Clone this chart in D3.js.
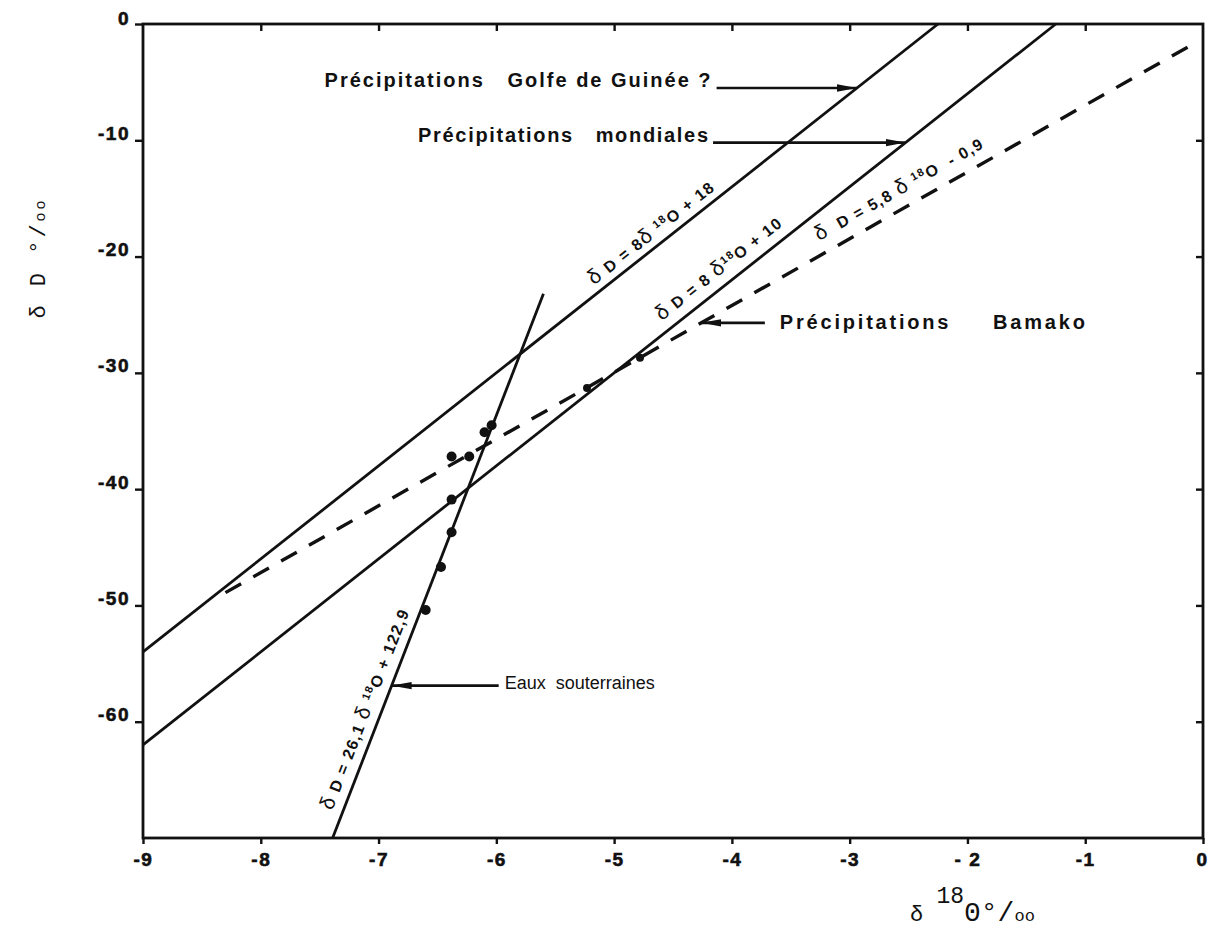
<!DOCTYPE html>
<html>
<head>
<meta charset="utf-8">
<script src="https://cdn.jsdelivr.net/npm/d3@7"></script>
<style>
  html, body { margin: 0; padding: 0; background: #fff; }
  svg { display: block; }
</style>
</head>
<body>
<svg id="chart" width="1208" height="928"></svg>
<script>
// ---------- data ----------
const xTicks = [-9, -8, -7, -6, -5, -4, -3, -2, -1, 0];
const xTickLabels = ["-9", "-8", "-7", "-6", "-5", "-4", "-3", "- 2", "-1", "0"];
const yTicks = [0, -10, -20, -30, -40, -50, -60];
const yTickLabels = ["0", "-10", "-20", "-30", "-40", "-50", "-60"];

// line end points [δ18O, δD]
const lineGolfe = [[-9, -54], [-2.25, 0]];          // δD = 8 δ18O + 18
const lineMondiales = [[-9, -62], [-1.25, 0]];      // δD = 8 δ18O + 10
const lineBamako = [[-8.3, -48.9], [-0.08, -1.7]];  // δD = 5,8 δ18O - 0,9
const lineEaux = [[-7.39, -70], [-5.6, -23.2]];     // δD = 26,1 δ18O + 122,9

// groundwater samples [δ18O, δD]
const pointsEaux = [
  [-6.04, -34.5], [-6.10, -35.1], [-6.38, -37.2], [-6.23, -37.2],
  [-6.38, -40.9], [-6.38, -43.7], [-6.47, -46.7], [-6.60, -50.4]
];
// Bamako rain samples
const pointsBamako = [[-5.23, -31.3], [-4.78, -28.7]];

// ---------- layout ----------
const svg = d3.select("#chart");
const x = d3.scaleLinear().domain([-9, 0]).range([143, 1203]);
const y = d3.scaleLinear().domain([-70, 0]).range([838, 24]);

const ink = "#111";
const tickFont = "'Liberation Sans', Arial, sans-serif";
const monoFont = "'Liberation Mono', 'DejaVu Sans Mono', monospace";

svg.append("defs").append("marker")
  .attr("id", "arrow")
  .attr("viewBox", "0 0 20 10")
  .attr("refX", 20).attr("refY", 5)
  .attr("markerWidth", 20).attr("markerHeight", 10)
  .attr("markerUnits", "userSpaceOnUse")
  .attr("orient", "auto")
  .append("path").attr("d", "M0,1.3 L20,5 L0,8.7 Z").attr("fill", ink);

// ---------- axes ----------
const gB = svg.append("g").attr("transform", `translate(0,${y(-70)})`)
  .call(d3.axisBottom(x).tickValues(xTicks).tickSize(6).tickPadding(9)
    .tickFormat((d, i) => xTickLabels[i]));
const gL = svg.append("g").attr("transform", `translate(${x(-9)},0)`)
  .call(d3.axisLeft(y).tickValues(yTicks).tickSize(8).tickPadding(5)
    .tickFormat((d, i) => yTickLabels[i]));
const gT = svg.append("g").attr("transform", `translate(0,${y(0)})`)
  .call(d3.axisTop(x).tickValues(xTicks.slice(1, -1)).tickSize(-7).tickFormat(""));
const gR = svg.append("g").attr("transform", `translate(${x(0)},0)`)
  .call(d3.axisRight(y).tickValues(yTicks.slice(1)).tickSize(-7).tickFormat(""));

[gB, gL, gT, gR].forEach(g => {
  g.select(".domain").remove();
  g.selectAll(".tick line").attr("stroke", ink).attr("stroke-width", 2.4);
  g.selectAll("text").attr("fill", ink)
    .attr("font-family", tickFont).attr("font-weight", "bold")
    .attr("font-size", 19).attr("letter-spacing", 1.5)
    .attr("stroke", ink).attr("stroke-width", 0.6);
});
gL.selectAll("text").attr("dy", "-0.05em");
gL.select(".tick:first-of-type text").attr("dy", "0.05em");
// keep the last bottom label inside the page edge
gB.select(".tick:last-of-type text").attr("text-anchor", "end").attr("dx", 5);

// frame
svg.append("rect")
  .attr("x", x(-9)).attr("y", y(0))
  .attr("width", x(0) - x(-9)).attr("height", y(-70) - y(0))
  .attr("fill", "none").attr("stroke", ink).attr("stroke-width", 2.8);

// ---------- lines ----------
const lineGen = d3.line().x(d => x(d[0])).y(d => y(d[1]));
const plot = svg.append("g");
[lineGolfe, lineMondiales, lineEaux].forEach(l => {
  plot.append("path").attr("d", lineGen(l))
    .attr("fill", "none").attr("stroke", ink).attr("stroke-width", 2.8);
});
plot.append("path").attr("d", lineGen(lineBamako))
  .attr("fill", "none").attr("stroke", ink).attr("stroke-width", 3.4)
  .attr("stroke-dasharray", "18,14");

// points
plot.selectAll("circle.eaux").data(pointsEaux).join("circle")
  .attr("class", "eaux")
  .attr("cx", d => x(d[0])).attr("cy", d => y(d[1])).attr("r", 5).attr("fill", ink);
plot.selectAll("circle.bam").data(pointsBamako).join("circle")
  .attr("class", "bam")
  .attr("cx", d => x(d[0])).attr("cy", d => y(d[1])).attr("r", 4).attr("fill", ink);

// ---------- helpers ----------
function xAtY(l, yv) {
  const [a, b] = l;
  return a[0] + (yv - a[1]) * (b[0] - a[0]) / (b[1] - a[1]);
}
function yAtX(l, xv) {
  const [a, b] = l;
  return a[1] + (xv - a[0]) * (b[1] - a[1]) / (b[0] - a[0]);
}
function angleOf(l) {
  const [a, b] = l;
  return Math.atan2(y(b[1]) - y(a[1]), x(b[0]) - x(a[0])) * 180 / Math.PI;
}

// ---------- arrows + annotation labels ----------
const annFont = "'Liberation Sans', Arial, sans-serif";
function annotate(l, yVal, tailX, label, opts) {
  const tipX = xAtY(l, yVal);
  const py = y(yVal);
  svg.append("line")
    .attr("x1", x(tailX)).attr("y1", py).attr("x2", x(tipX)).attr("y2", py)
    .attr("stroke", ink).attr("stroke-width", 2.6)
    .attr("marker-end", "url(#arrow)");
  const t = svg.append("text")
    .attr("y", py + opts.dy)
    .attr("font-family", annFont).attr("font-size", opts.size)
    .attr("font-weight", opts.weight).attr("fill", ink)
    .style("white-space", "pre")
    .text(label);
  if (opts.side === "left") {
    t.attr("x", x(tailX) - opts.gap).attr("text-anchor", "end");
  } else {
    t.attr("x", x(tailX) + opts.gap).attr("text-anchor", "start");
  }
  if (opts.len) t.attr("textLength", opts.len).attr("lengthAdjust", "spacing");
}
annotate(lineGolfe, -5.5, -4.13, "Précipitations   Golfe de Guinée ?",
  { side: "left", gap: 6, dy: -1, size: 20, weight: "bold", len: 386 });
annotate(lineMondiales, -10.2, -4.16, "Précipitations   mondiales",
  { side: "left", gap: 5, dy: -1, size: 20, weight: "bold", len: 290 });
annotate(lineBamako, -25.7, -3.72, "Précipitations     Bamako",
  { side: "right", gap: 15, dy: 6, size: 20, weight: "bold", len: 305 });
annotate(lineEaux, -56.9, -5.98, "Eaux  souterraines",
  { side: "right", gap: 6, dy: 3, size: 18, weight: "normal", len: 150 });

// ---------- equation labels along lines ----------
function eqLabel(l, px, py, dy, parts) {
  const ang = angleOf(l);
  const t = svg.append("text")
    .attr("transform", `translate(${x(px)},${y(py)}) rotate(${ang})`)
    .attr("text-anchor", "middle")
    .attr("dy", dy)
    .attr("font-family", annFont).attr("font-size", 16)
    .attr("font-weight", "bold").attr("fill", ink)
    .attr("letter-spacing", 1.4)
    .style("white-space", "pre");
  parts.forEach(p => {
    const s = t.append("tspan").text(p.t);
    if (p.sup) s.attr("font-size", 11).attr("baseline-shift", "super");
    if (p.greek) s.attr("font-weight", "normal").attr("font-size", 21);
  });
}
eqLabel(lineGolfe, -4.61, yAtX(lineGolfe, -4.61), -8, [
  { t: "δ", greek: true }, { t: " D = 8" }, { t: "δ", greek: true }, { t: " " },
  { t: "18", sup: true }, { t: "O + 18" }
]);
eqLabel(lineMondiales, -4.02, yAtX(lineMondiales, -4.02), -11, [
  { t: "δ", greek: true }, { t: " D = 8 " }, { t: "δ", greek: true },
  { t: "18", sup: true }, { t: "O + 10" }
]);
eqLabel(lineBamako, -2.5, yAtX(lineBamako, -2.5), -13, [
  { t: "δ", greek: true }, { t: "  D = 5,8 " }, { t: "δ", greek: true }, { t: " " },
  { t: "18", sup: true }, { t: "O  - 0,9" }
]);
eqLabel(lineEaux, xAtY(lineEaux, -59.4), -59.4, -10, [
  { t: "δ", greek: true }, { t: " D = 26,1 " }, { t: "δ", greek: true }, { t: " " },
  { t: "18", sup: true }, { t: "O + 122,9" }
]);

// ---------- axis titles ----------
const yt = svg.append("text")
  .attr("transform", "translate(45,258) rotate(-90)")
  .attr("text-anchor", "middle")
  .attr("font-family", monoFont).attr("font-size", 22).attr("fill", ink)
  .attr("letter-spacing", 3)
  .style("white-space", "pre");
yt.append("tspan").text("δ D °/");
yt.append("tspan").attr("font-size", 15).text("oo");

const xt = svg.append("text")
  .attr("x", 910).attr("y", 921)
  .attr("font-family", monoFont).attr("fill", ink)
  .style("white-space", "pre");
xt.append("tspan").attr("font-size", 22).text("δ ");
xt.append("tspan").attr("font-size", 23).attr("dy", -18).text("18");
xt.append("tspan").attr("font-size", 28).attr("dy", 18).text("0°/");
xt.append("tspan").attr("font-size", 17).text("oo");
</script>
</body>
</html>
